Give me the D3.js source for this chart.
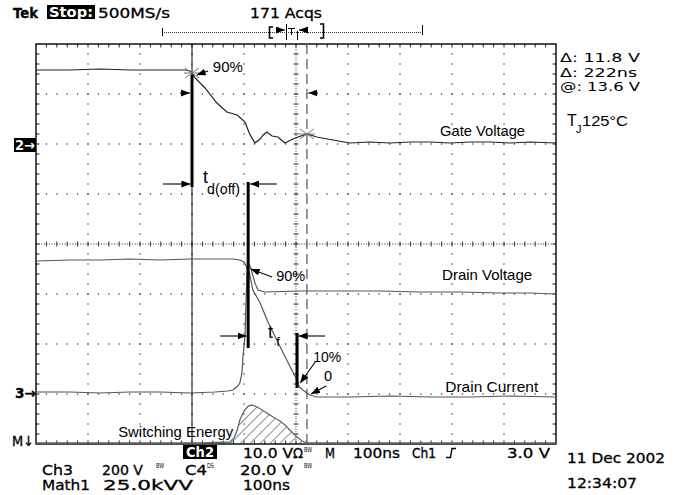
<!DOCTYPE html>
<html lang="en">
<head>
<meta charset="UTF-8">
<title>MOSFET turn-off - Tek capture</title>
<script src="https://d3js.org/d3.v7.min.js"></script>
<style>
  body { margin: 0; background: #fff; }
  svg { display: block; }
  .tek { font-family: "DejaVu Sans", sans-serif; font-size: 14px; fill: #000; stroke: #000; stroke-width: 0.3px; }
  .lbl { font-family: "Liberation Sans", Arial, sans-serif; font-size: 15px; fill: #000; }
</style>
</head>
<body>
<div id="scope"></div>
<script>
// horizontal: 100 ns/div, 10 div -> 0..1000 ns ; vertical: 8 div -> -4..4
const timeDomain = [0, 1000];
const divDomain = [-4, 4];

// Ch2 - gate voltage (10 V/div, ref +2 div)
const gateT = [0, 65, 123, 181, 238, 287, 296, 300, 306, 325, 348, 367, 387, 402, 410, 421, 431, 437, 444, 454, 465, 479, 494, 504, 521, 540, 571, 604, 642, 681, 719, 758, 796, 835, 873, 912, 950, 1000];
const gateV = [14.8, 14.8, 15.0, 14.8, 14.8, 14.8, 14.6, 14.2, 13.2, 11.2, 8.2, 6.4, 5.8, 4.4, 2.2, 0.2, 1.0, 1.8, 2.4, 1.6, 1.4, 0.2, 1.0, 1.4, 2.0, 1.4, 0.8, 0.2, 0.4, 0.2, 0.4, 0.4, 0.2, 0.4, 0.4, 0.2, 0.4, 0.2];

// Ch3 - drain voltage (200 V/div, ref -3 div)
const drainVT = [0, 65, 123, 181, 238, 296, 344, 369, 379, 388, 392, 396, 398, 402, 404, 406, 408, 413, 421, 427, 440, 508, 585, 662, 738, 815, 892, 950, 1000];
const drainV = [8, 8, 4, 8, 8, 4, 8, 12, 16, 32, 44, 84, 148, 236, 376, 496, 528, 504, 444, 416, 408, 412, 412, 412, 408, 408, 404, 404, 400];

// C4 - drain current (20 A/div, ref -3.06 div)
const drainIT = [0, 65, 123, 181, 238, 296, 344, 379, 392, 400, 410, 417, 431, 446, 463, 485, 502, 506, 513, 527, 540, 604, 681, 758, 835, 912, 1000];
const drainI = [54.4, 54.8, 54.8, 55.2, 54.8, 55.2, 55.2, 55.2, 54.8, 54.0, 50.0, 42.8, 37.6, 30.0, 22.8, 13.6, 6.8, 4.0, 2.8, 0.8, 0, 0, 0.4, 0, 0, 0.4, 0];

// Math1 - switching energy (25.0 kVV/div, ref -3.98 div)
const energyT = [0, 219, 315, 373, 381, 387, 392, 400, 408, 415, 425, 435, 444, 456, 469, 479, 488, 502, 512, 521, 565, 1000];
const energy = [0, 0, 0, 0.5, 2.5, 6.5, 11.5, 16, 18.5, 19, 18, 16.5, 15, 13, 11, 9, 6.5, 3, 1, 0, 0, 0];

// cursors (ns)
const cursorT = [300, 521];

const W = 681, H = 495;
const x = d3.scaleLinear().domain(timeDomain).range([36, 556]);
const y = d3.scaleLinear().domain(divDomain).range([444, 44]);

const channels = [
  { t: gateT, v: gateV, perDiv: 10, ref: 2, color: "#222" },
  { t: drainVT, v: drainV, perDiv: 200, ref: -3, color: "#555" },
  { t: drainIT, v: drainI, perDiv: 20, ref: -3.06, color: "#555" }
];
const mathCh = { t: energyT, v: energy, perDiv: 25, ref: -3.98, color: "#666" };

const svg = d3.select("#scope").append("svg").attr("width", W).attr("height", H);

const defs = svg.append("defs");
defs.append("clipPath").attr("id", "screen")
  .append("rect").attr("x", 36).attr("y", 44).attr("width", 520).attr("height", 400);
defs.append("clipPath").attr("id", "between")
  .append("rect").attr("x", x(cursorT[0])).attr("y", 44).attr("width", x(cursorT[1]) - x(cursorT[0])).attr("height", 404);
const pat = defs.append("pattern").attr("id", "hatch").attr("patternUnits", "userSpaceOnUse")
  .attr("width", 7).attr("height", 7).attr("patternTransform", "rotate(45)");
pat.append("line").attr("x1", 0).attr("y1", 0).attr("x2", 0).attr("y2", 7)
  .attr("stroke", "#333").attr("stroke-width", 1.1);
defs.append("marker").attr("id", "ah").attr("markerUnits", "userSpaceOnUse")
  .attr("markerWidth", 9).attr("markerHeight", 7).attr("refX", 9).attr("refY", 3.5).attr("orient", "auto")
  .append("path").attr("d", "M0,0 L9,3.5 L0,7 Z").attr("fill", "#000");

// ---- graticule ----
const grid = svg.append("g");
const dot = (cx, cy) => grid.append("rect").attr("x", cx - 0.6).attr("y", cy - 0.6)
  .attr("width", 1.2).attr("height", 1.2).attr("fill", "#222");

for (let i = 1; i < 10; i++) {
  if (i === 5) continue;
  for (let k = 1; k < 40; k++) dot(x(i * 100), y(-4 + k * 0.2));
}
for (let j = -3; j <= 3; j++) {
  if (j === 0) continue;
  for (let k = 1; k < 50; k++) dot(x(k * 20), y(j));
}
// center cross
grid.append("line").attr("x1", 36).attr("x2", 556).attr("y1", y(0)).attr("y2", y(0))
  .attr("stroke", "#333").attr("stroke-dasharray", "1,1.6");
grid.append("line").attr("x1", x(500)).attr("x2", x(500)).attr("y1", 44).attr("y2", 444)
  .attr("stroke", "#333").attr("stroke-dasharray", "1,1.6");
for (let k = 1; k < 50; k++) {
  const xx = x(k * 20);
  grid.append("line").attr("x1", xx).attr("x2", xx).attr("y1", y(0) - 2.5).attr("y2", y(0) + 2.5).attr("stroke", "#333");
  grid.append("line").attr("x1", xx).attr("x2", xx).attr("y1", 44).attr("y2", 47.5).attr("stroke", "#222");
  grid.append("line").attr("x1", xx).attr("x2", xx).attr("y1", 440.5).attr("y2", 444).attr("stroke", "#222");
}
for (let k = 1; k < 40; k++) {
  const yy = y(-4 + k * 0.2);
  grid.append("line").attr("y1", yy).attr("y2", yy).attr("x1", x(500) - 2.5).attr("x2", x(500) + 2.5).attr("stroke", "#333");
  grid.append("line").attr("y1", yy).attr("y2", yy).attr("x1", 36).attr("x2", 39.5).attr("stroke", "#222");
  grid.append("line").attr("y1", yy).attr("y2", yy).attr("x1", 552.5).attr("x2", 556).attr("stroke", "#222");
}
grid.append("rect").attr("x", 36).attr("y", 44).attr("width", 520).attr("height", 400)
  .attr("fill", "none").attr("stroke", "#000").attr("stroke-width", 1.4);

// ---- cursors ----
svg.append("line").attr("x1", x(cursorT[0])).attr("x2", x(cursorT[0])).attr("y1", 44).attr("y2", 444)
  .attr("stroke", "#000").attr("stroke-width", 1);
svg.append("line").attr("x1", x(cursorT[1])).attr("x2", x(cursorT[1])).attr("y1", 44).attr("y2", 444)
  .attr("stroke", "#777").attr("stroke-width", 1.5).attr("stroke-dasharray", "10,5");

// ---- traces ----
const traces = svg.append("g").attr("clip-path", "url(#screen)");
const pts = ch => ch.t.map((t, i) => ({ t: t, d: ch.ref + ch.v[i] / ch.perDiv }));
const line = d3.line().x(d => x(d.t)).y(d => y(d.d));

const mathPts = pts(mathCh);
const hatchArea = d3.area().x(d => x(d.t)).y0(y(mathCh.ref) + 4).y1(d => y(d.d));
traces.append("path").datum(mathPts).attr("d", hatchArea)
  .attr("fill", "url(#hatch)").attr("clip-path", "url(#between)");
traces.append("path").datum(mathPts).attr("d", line)
  .attr("fill", "none").attr("stroke", mathCh.color).attr("stroke-width", 1.3);

channels.forEach(ch => {
  traces.append("path").datum(pts(ch)).attr("d", line)
    .attr("fill", "none").attr("stroke", ch.color).attr("stroke-width", 1.2);
});

// cursor crossing stars on gate trace
const gateCh = channels[0];
cursorT.forEach(ct => {
  const i = gateT.indexOf(ct);
  const cx = x(ct), cy = y(gateCh.ref + gateV[i] / gateCh.perDiv);
  [[8, 0], [7, 5], [7, -5]].forEach(([dx, dy]) => {
    svg.append("line").attr("x1", cx - dx).attr("x2", cx + dx).attr("y1", cy - dy).attr("y2", cy + dy)
      .attr("stroke", "#777").attr("stroke-width", 1);
  });
});

// ---- annotations (time ns, divisions) ----
const bars = [[300, 3.38, 1.14], [408, 1.24, -2.08], [502, -1.78, -2.88]];
bars.forEach(b => svg.append("line").attr("x1", x(b[0])).attr("x2", x(b[0]))
  .attr("y1", y(b[1])).attr("y2", y(b[2])).attr("stroke", "#000").attr("stroke-width", 3));

const arrows = [
  [331, 3.46, 309, 3.38], [277, 3.02, 296, 3.02], [542, 3.02, 524, 3.02],
  [244, 1.2, 297, 1.2], [463, 1.2, 412, 1.2],
  [454, -0.66, 413, -0.5],
  [354, -1.84, 405, -1.84], [556, -1.84, 505, -1.84],
  [537, -2.36, 508, -2.78], [558, -2.84, 529, -3.0]
];
arrows.forEach(a => svg.append("line").attr("x1", x(a[0])).attr("y1", y(a[1]))
  .attr("x2", x(a[2])).attr("y2", y(a[3])).attr("stroke", "#000").attr("stroke-width", 1.1)
  .attr("marker-end", "url(#ah)"));

// text, time, div, font size, width
const notes = [
  ["90%", 340, 3.44, 15, 30], ["t", 321, 1.22, 18, 0], ["d(off)", 329, 1.0, 14.5, 33],
  ["90%", 462, -0.74, 14.5, 29], ["t", 446, -1.88, 18, 0], ["f", 462, -2.04, 13, 0],
  ["10%", 533, -2.36, 14.5, 28], ["0", 554, -2.74, 14.5, 0],
  ["Gate Voltage", 777, 2.16, 14.5, 85], ["Drain Voltage", 781, -0.72, 14.5, 90],
  ["Drain Current", 787, -2.96, 14.5, 93], ["Switching Energy", 158, -3.86, 14.5, 115]
];
notes.forEach(n => {
  const t = svg.append("text").attr("class", "lbl").attr("x", x(n[1])).attr("y", y(n[2]))
    .style("font-size", n[3] + "px").text(n[0]);
  if (n[4]) t.attr("textLength", n[4]).attr("lengthAdjust", "spacingAndGlyphs");
});

svg.append("text").attr("class", "lbl").attr("x", 567).attr("y", 126).style("font-size", "16px").text("T");
svg.append("text").attr("class", "lbl").attr("x", 576).attr("y", 133).style("font-size", "11px").text("J");
svg.append("text").attr("class", "lbl").attr("x", 582).attr("y", 126).attr("textLength", 46)
  .attr("lengthAdjust", "spacingAndGlyphs").text("125°C");

// ---- scope readouts ----
function tek(txt, tx, ty, w, opts) {
  opts = opts || {};
  const t = svg.append("text").attr("class", "tek").attr("x", tx).attr("y", ty).text(txt);
  if (w) t.attr("textLength", w).attr("lengthAdjust", "spacingAndGlyphs");
  if (opts.bold) t.style("font-weight", "bold");
  if (opts.fill) t.style("fill", opts.fill).style("stroke", "none");
  if (opts.size) t.style("font-size", opts.size + "px").style("stroke", "none");
  return t;
}
function inv(x0, y0, w, h) {
  svg.append("rect").attr("x", x0).attr("y", y0).attr("width", w).attr("height", h).attr("fill", "#000");
}

tek("Tek", 13, 18, 25, { bold: true });
inv(47, 5, 48, 14);
tek("Stop:", 49, 17, 44, { bold: true, fill: "#fff" });
tek("500MS/s", 98, 18, 72);
tek("171 Acqs", 250, 18, 72);

// record / trigger position bar
const trig = svg.append("g").attr("stroke", "#000").attr("fill", "none");
trig.append("line").attr("x1", 162).attr("x2", 423).attr("y1", 32.5).attr("y2", 32.5)
  .attr("stroke-dasharray", "1,1").attr("stroke", "#333");
trig.append("line").attr("x1", 162.5).attr("x2", 162.5).attr("y1", 28).attr("y2", 36);
trig.append("line").attr("x1", 422.5).attr("x2", 422.5).attr("y1", 25).attr("y2", 35);
trig.append("path").attr("d", "M273,27 H269.5 V38 H273").attr("stroke-width", 1.6);
trig.append("path").attr("d", "M320,24 H323.5 V38 H320").attr("stroke-width", 1.6);
trig.append("line").attr("x1", 277).attr("x2", 285).attr("y1", 30).attr("y2", 30).attr("marker-end", "url(#ah)");
trig.append("line").attr("x1", 286.5).attr("x2", 286.5).attr("y1", 24).attr("y2", 40);
trig.append("path").attr("d", "M288,28.5 H295 M291.5,28.5 V35");
trig.append("line").attr("x1", 297.5).attr("x2", 297.5).attr("y1", 31).attr("y2", 40);
trig.append("line").attr("x1", 307).attr("x2", 299).attr("y1", 30).attr("y2", 30).attr("marker-end", "url(#ah)");

// right panel
tek("\u0394: 11.8 V", 560, 62, 80, { size: 13 });
tek("\u0394: 222ns", 560, 76.5, 77, { size: 13 });
tek("@: 13.6 V", 560, 91, 80, { size: 13 });

// channel markers
inv(14, 138, 22, 14);
tek("2\u2192", 15, 150, 20, { fill: "#fff", bold: true });
tek("3\u2192", 15, 398, 21, { bold: true });
tek("M\u2193", 12, 446, 22);

// bottom status lines
inv(183, 445, 34, 14);
tek("Ch2", 186, 457, 28, { fill: "#fff", bold: true });
tek("10.0 V", 243, 458, 50);
tek("\u03A9", 293, 458, 10);
tek("BW", 304, 452, 8, { size: 7 });
tek("M", 325, 458, 10);
tek("100ns", 353, 458, 47);
tek("Ch1", 412, 458, 24);
svg.append("path").attr("d", "M446,457.5 H450.5 L452,448.5 H456").attr("fill", "none").attr("stroke", "#000").attr("stroke-width", 1.4);
tek("3.0 V", 507, 458, 43);

tek("Ch3", 42, 475, 31);
tek("200 V", 102, 475, 41);
tek("BW", 156, 468, 8, { size: 7 });
tek("C4", 185, 475, 22);
tek("DS", 207, 468, 7, { size: 7 });
tek("20.0 V", 240, 475, 53);
tek("BW", 304, 468, 8, { size: 7 });

tek("Math1", 42, 490, 48);
tek("25.0kVV", 103, 490, 90);
tek("100ns", 243, 490, 47);

tek("11 Dec 2002", 567, 463, 98);
tek("12:34:07", 567, 488, 70);
</script>
</body>
</html>
